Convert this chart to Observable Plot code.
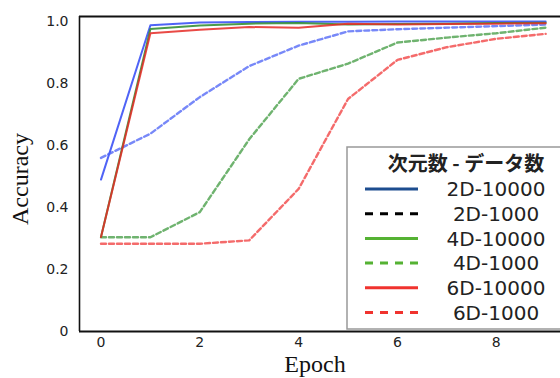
<!DOCTYPE html>
<html>
<head>
<meta charset="utf-8">
<script src="https://cdn.jsdelivr.net/npm/d3@7"></script>
<script src="https://cdn.jsdelivr.net/npm/@observablehq/plot@0.6"></script>
<style>
  html, body { margin: 0; padding: 0; background: #fff; }
  svg { display: block; }
</style>
</head>
<body>
<div id="chart"></div>
<script>
// ---- data ----
const epochs = [0, 1, 2, 3, 4, 5, 6, 7, 8, 9];
const acc2D10000 = [0.49, 0.988, 0.997, 0.998, 0.999, 0.999, 1.0, 1.0, 1.0, 1.0];
const acc2D1000  = [0.56, 0.638, 0.756, 0.856, 0.922, 0.968, 0.975, 0.98, 0.985, 0.99];
const acc4D10000 = [0.305, 0.976, 0.987, 0.993, 0.995, 0.99, 0.992, 0.993, 0.995, 0.996];
const acc4D1000  = [0.304, 0.304, 0.385, 0.62, 0.815, 0.864, 0.932, 0.948, 0.962, 0.98];
const acc6D10000 = [0.305, 0.962, 0.973, 0.982, 0.98, 0.993, 0.99, 0.992, 0.993, 0.994];
const acc6D1000  = [0.283, 0.283, 0.283, 0.294, 0.46, 0.75, 0.876, 0.917, 0.944, 0.96];
const seriesNames = ["2D-10000", "2D-1000", "4D-10000", "4D-1000", "6D-10000", "6D-1000"];
const seriesValues = [acc2D10000, acc2D1000, acc4D10000, acc4D1000, acc6D10000, acc6D1000];
const xTicks = [0, 2, 4, 6, 8];
const yTicks = [0, 0.2, 0.4, 0.6, 0.8, 1.0];
const legendTitle = "次元数 - データ数";
const xLabel = "Epoch";
const yLabel = "Accuracy";

// ---- styles ----
const lineStyles = [
  {stroke: "#3048f5", dash: null,  opacity: 0.85, width: 2},
  {stroke: "#4a60f5", dash: "5,3", opacity: 0.75, width: 2.4},
  {stroke: "#2a8a2a", dash: null,  opacity: 0.85, width: 2},
  {stroke: "#3f9a3f", dash: "5,3", opacity: 0.75, width: 2.4},
  {stroke: "#e52a26", dash: null,  opacity: 0.85, width: 2},
  {stroke: "#f03a3a", dash: "5,3", opacity: 0.75, width: 2.4}
];
const legendStyles = [
  {stroke: "#1d4d8f", dash: null},
  {stroke: "#000000", dash: "8,7"},
  {stroke: "#55b233", dash: null},
  {stroke: "#55b233", dash: "8,7"},
  {stroke: "#f0332e", dash: null},
  {stroke: "#f0332e", dash: "8,7"}
];

const xDomain = [-0.435, 9.30];
const yDomain = [0, 1.016];

const table = seriesNames.map((name, i) =>
  epochs.map((e, j) => ({series: name, epoch: e, acc: seriesValues[i][j]})));

const lineMarks = table.map((rows, i) => Plot.lineY(rows, {
  x: "epoch", y: "acc",
  stroke: lineStyles[i].stroke,
  strokeOpacity: lineStyles[i].opacity,
  strokeWidth: lineStyles[i].width,
  strokeDasharray: lineStyles[i].dash
}));

const chart = Plot.plot({
  width: 560, height: 378,
  marginLeft: 79, marginRight: 0, marginTop: 16, marginBottom: 47,
  x: {domain: xDomain},
  y: {domain: yDomain},
  style: {background: "white", fontFamily: "DejaVu Sans", fontSize: "14px", color: "#222"},
  marks: [
    Plot.axisX({ticks: xTicks, tickSize: 0, tickPadding: 6, label: null}),
    Plot.axisY({ticks: yTicks, tickSize: 0, tickPadding: 11, label: null,
      tickFormat: d => d === 0 ? "0" : d.toFixed(1)}),
    ...lineMarks,
    Plot.ruleY([yDomain[0]], {stroke: "#111", strokeWidth: 2}),
    Plot.ruleY([yDomain[1]], {stroke: "#111", strokeWidth: 2}),
    Plot.ruleX([xDomain[0]], {stroke: "#111", strokeWidth: 1.6})
  ]
});
document.getElementById("chart").appendChild(chart);

// ---- axis titles and legend ----
const svg = d3.select(chart);
svg.append("text")
  .attr("x", 315).attr("y", 372)
  .attr("text-anchor", "middle")
  .attr("font-family", "Liberation Serif, serif")
  .attr("font-size", 24).attr("fill", "#111")
  .text(xLabel);
svg.append("text")
  .attr("transform", "translate(28,179) rotate(-90)")
  .attr("text-anchor", "middle")
  .attr("font-family", "Liberation Serif, serif")
  .attr("font-size", 24).attr("fill", "#111")
  .text(yLabel);

const lg = svg.append("g");
lg.append("rect")
  .attr("x", 347).attr("y", 147).attr("width", 230).attr("height", 182)
  .attr("fill", "white").attr("stroke", "#999").attr("stroke-width", 1.5);
lg.append("text")
  .attr("x", 466).attr("y", 171)
  .attr("text-anchor", "middle")
  .attr("font-family", "Noto Sans CJK JP")
  .attr("font-weight", "bold")
  .attr("font-size", 20).attr("fill", "#222")
  .text(legendTitle);
seriesNames.forEach((name, i) => {
  const cy = 189 + i * 24.7;
  lg.append("line")
    .attr("x1", 365).attr("x2", 418).attr("y1", cy).attr("y2", cy)
    .attr("stroke", legendStyles[i].stroke).attr("stroke-width", 3)
    .attr("stroke-dasharray", legendStyles[i].dash);
  lg.append("text")
    .attr("x", 496).attr("y", cy).attr("dy", "0.36em")
    .attr("text-anchor", "middle")
    .attr("font-family", "DejaVu Sans")
    .attr("font-size", 20).attr("fill", "#222")
    .text(name);
});
</script>
</body>
</html>
